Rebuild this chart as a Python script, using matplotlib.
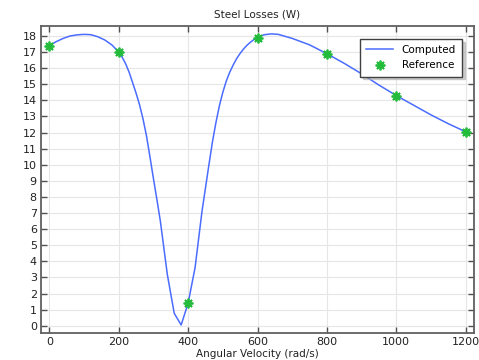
import matplotlib
matplotlib.use("Agg")
import matplotlib.pyplot as plt

# Computed curve
comp_x = [0, 20, 40, 60, 80, 100, 120, 140, 160, 180, 200, 210, 220, 230, 240,
          250, 260, 270, 280, 290, 300, 310, 320, 340, 360, 380, 400, 420,
          440, 450, 460, 470, 480, 490, 500, 510, 520, 530, 540, 550, 560,
          570, 580, 590, 600, 620, 640, 660, 700, 750, 800, 850, 900, 950, 1000,
          1050, 1100, 1150, 1200]
comp_y = [17.4, 17.65, 17.85, 18.0, 18.07, 18.1, 18.08, 17.95, 17.75, 17.45,
          17.0, 16.68, 16.27, 15.75, 15.1, 14.45, 13.73, 12.85, 11.8, 10.5,
          9.15, 7.85, 6.5, 3.2, 0.77, 0.05, 1.4, 3.6, 7.1, 8.55, 10.0, 11.4,
          12.6, 13.65, 14.5, 15.2, 15.75, 16.2, 16.6, 16.92, 17.2, 17.43,
          17.62, 17.78, 17.92, 18.08, 18.13, 18.1, 17.85, 17.45, 16.9, 16.3,
          15.65, 14.95, 14.3, 13.7, 13.1, 12.55, 12.05]

# Reference points
ref_x = [0, 200, 400, 600, 800, 1000, 1200]
ref_y = [17.4, 17.0, 1.4, 17.9, 16.9, 14.3, 12.05]

title = "Steel Losses (W)"
xlabel = "Angular Velocity (rad/s)"
xticks = [0, 200, 400, 600, 800, 1000, 1200]
yticks = list(range(0, 19))

fig = plt.figure(figsize=(4.79, 3.6), dpi=100)
ax = fig.add_axes([41/479, 1 - 333/360, (474-41)/479, (333-26)/360])

ax.plot(comp_x, comp_y, color="#4a6cff", lw=1.1, label="Computed", zorder=3)
ax.plot(ref_x, ref_y, linestyle="none", marker=(8, 2, 0), markersize=7,
        markeredgewidth=1.3, color="#22bb3a", markeredgecolor="#22bb3a",
        label="Reference", zorder=4)

ax.set_xlim(-24, 1224)
ax.set_ylim(-0.45, 18.62)
ax.set_xticks(xticks)
ax.set_yticks(yticks)
ax.grid(True, color="#e6e6e6", lw=0.8)
ax.set_axisbelow(True)

for s in ax.spines.values():
    s.set_color("#606060")
    s.set_linewidth(1.3)
ax.tick_params(direction="in", length=4, width=1, colors="#505050",
               labelcolor="#222222", labelsize=8, top=True, right=True,
               labeltop=False, labelright=False, pad=3)

ax.set_title(title, fontsize=7.5, color="#222222", pad=6)
ax.set_xlabel(xlabel, fontsize=7.5, color="#222222", labelpad=1)

leg = ax.legend(loc="upper right", fontsize=7.5, frameon=True, fancybox=False,
                shadow={"color": "#b0b0b0", "alpha": 0.6, "ox": 2, "oy": -2},
                borderpad=0.6, handlelength=2.6,
                bbox_to_anchor=(0.985, 0.975))
leg.get_frame().set_edgecolor("#404040")
leg.get_frame().set_linewidth(1.0)

fig.savefig("out.png", dpi=100)
